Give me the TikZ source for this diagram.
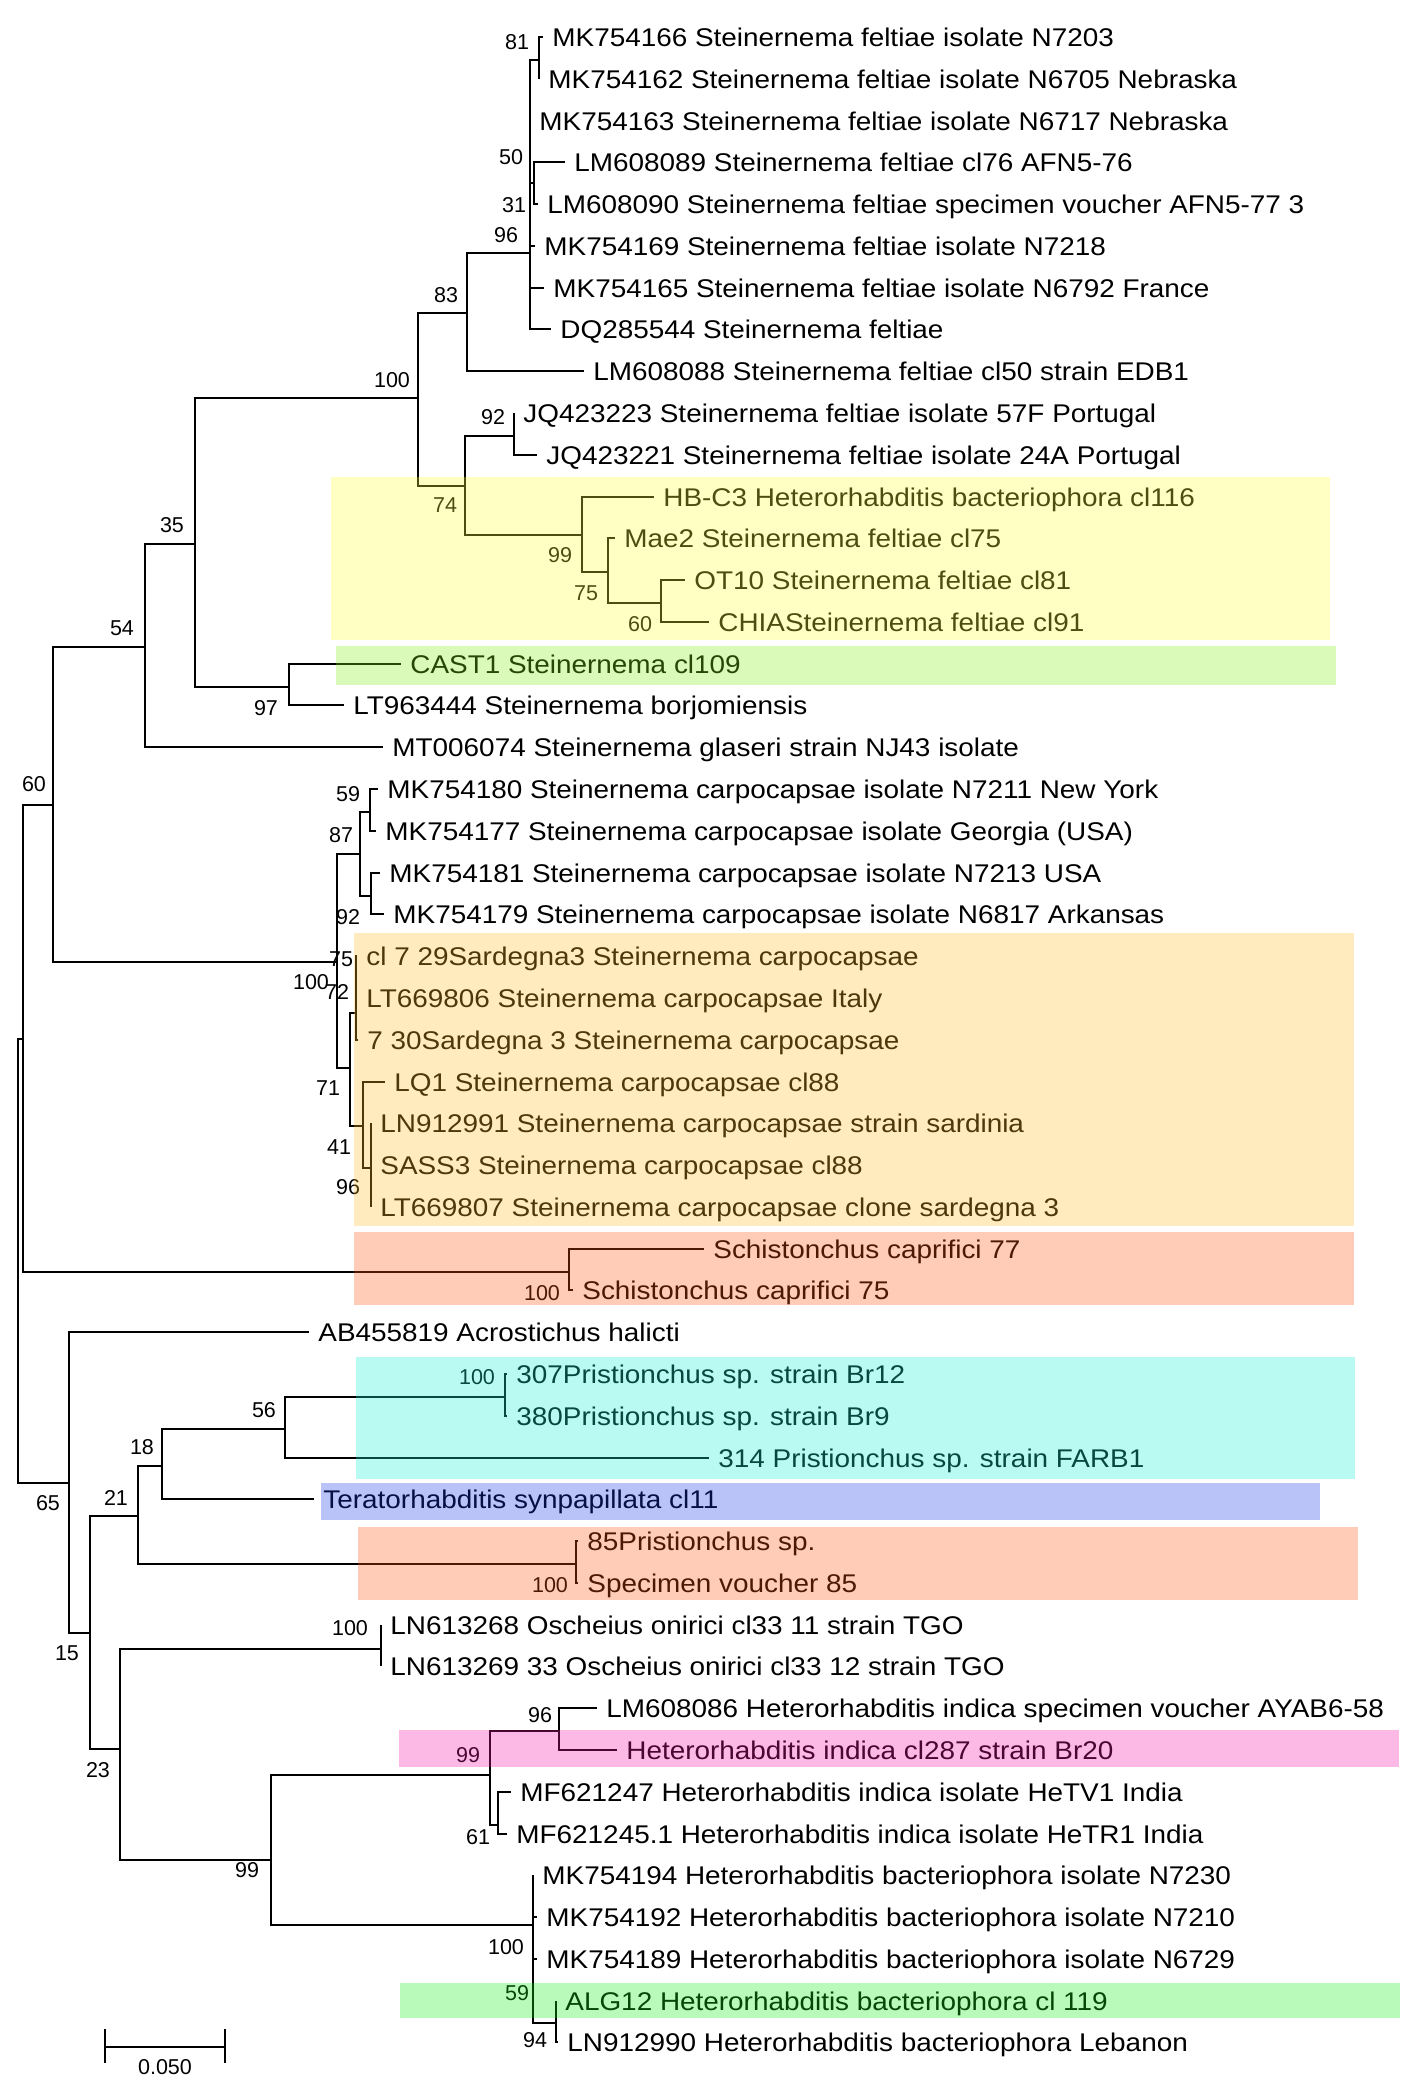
\documentclass[tikz,border=0pt]{standalone}
\usepackage{fontspec}
\setmainfont{Liberation Sans}[FakeStretch=1.09]
\newfontfamily\bootfamily{Liberation Sans}
\definecolor{HlYellow}{RGB}{255,255,58}
\definecolor{HlLime}{RGB}{128,238,22}
\definecolor{HlOrange}{RGB}{255,188,38}
\definecolor{HlSalmon}{RGB}{255,85,18}
\definecolor{HlCyan}{RGB}{22,242,212}
\definecolor{HlBlue}{RGB}{22,55,228}
\definecolor{HlPink}{RGB}{248,22,172}
\definecolor{HlGreen}{RGB}{22,234,22}
\tikzset{
  leaf/.style={anchor=west, inner xsep=4.5pt, inner ysep=0pt,
    font=\fontsize{12.8}{15}\selectfont, text height=9.2pt, text depth=0pt},
  boot/.style={inner sep=0pt, font=\bootfamily\fontsize{10.75}{12}\selectfont,
    text height=7.7pt, text depth=0pt},
  branch/.style={draw=black, line width=0.8pt},
  hilite/.style={fill opacity=0.3}
}
\begin{document}
\begin{tikzpicture}[x=0.5pt, y=-0.5pt]
\useasboundingbox (0,0) rectangle (1417,2087);
% internal nodes of the tree
\coordinate (root) at (18,1261);
\coordinate (n60) at (23,1039);
\coordinate (nA) at (53,805);
\coordinate (n54) at (145,647);
\coordinate (n35) at (195,544);
\coordinate (nfel) at (418,398);
\coordinate (n83) at (467,313);
\coordinate (n96) at (530,253);
\coordinate (n81) at (539,60);
\coordinate (n50) at (534,183);
\coordinate (n74) at (465,486);
\coordinate (n92) at (514,436);
\coordinate (n99y) at (582,535);
\coordinate (n75y) at (608,572);
\coordinate (n60y) at (661,603);
\coordinate (n97) at (289,687);
\coordinate (ncarp) at (337,962);
\coordinate (n87) at (360,854);
\coordinate (n59c) at (370,812);
\coordinate (n92c) at (371,896);
\coordinate (n71) at (350,1068);
\coordinate (n72) at (356,1013);
\coordinate (n41) at (363,1126);
\coordinate (n96c) at (371,1168);
\coordinate (nsch) at (569,1272);
\coordinate (n65) at (69,1483);
\coordinate (n15) at (90,1633);
\coordinate (n21) at (138,1516);
\coordinate (n18) at (162,1466);
\coordinate (n56) at (285,1429);
\coordinate (npr) at (505,1397);
\coordinate (n85) at (576,1564);
\coordinate (n23) at (120,1749);
\coordinate (nosc) at (381,1649);
\coordinate (n99b) at (271,1860);
\coordinate (n99i) at (490,1775);
\coordinate (n96i) at (559,1731);
\coordinate (n61) at (498,1825);
\coordinate (nbac) at (533,1925);
\coordinate (n94) at (556,2023);
% taxa
\node[leaf] (f7203) at (543,37) {MK754166 Steinernema feltiae isolate N7203};
\node[leaf] (f6705) at (539,79) {MK754162 Steinernema feltiae isolate N6705 Nebraska};
\node[leaf] (f6717) at (530,121) {MK754163 Steinernema feltiae isolate N6717 Nebraska};
\node[leaf] (fafn76) at (565,162) {LM608089 Steinernema feltiae cl76 AFN5-76};
\node[leaf] (fafn77) at (538,204) {LM608090 Steinernema feltiae specimen voucher AFN5-77 3};
\node[leaf] (f7218) at (535,246) {MK754169 Steinernema feltiae isolate N7218};
\node[leaf] (f6792) at (544,288) {MK754165 Steinernema feltiae isolate N6792 France};
\node[leaf] (fdq) at (551,329) {DQ285544 Steinernema feltiae};
\node[leaf] (fedb) at (584,371) {LM608088 Steinernema feltiae cl50 strain EDB1};
\node[leaf] (f57f) at (514,413) {JQ423223 Steinernema feltiae isolate 57F Portugal};
\node[leaf] (f24a) at (537,455) {JQ423221 Steinernema feltiae isolate 24A Portugal};
\node[leaf] (hbc3) at (654,497) {HB-C3 Heterorhabditis bacteriophora cl116};
\node[leaf] (mae2) at (615,538) {Mae2 Steinernema feltiae cl75};
\node[leaf] (ot10) at (685,580) {OT10 Steinernema feltiae cl81};
\node[leaf] (chia) at (709,622) {CHIASteinernema feltiae cl91};
\node[leaf] (cast1) at (401,664) {CAST1 Steinernema cl109};
\node[leaf] (borj) at (344,705) {LT963444 Steinernema borjomiensis};
\node[leaf] (glas) at (383,747) {MT006074 Steinernema glaseri strain NJ43 isolate};
\node[leaf] (c7211) at (378,789) {MK754180 Steinernema carpocapsae isolate N7211 New York};
\node[leaf] (cgeo) at (376,831) {MK754177 Steinernema carpocapsae isolate Georgia (USA)};
\node[leaf] (c7213) at (380,873) {MK754181 Steinernema carpocapsae isolate N7213 USA};
\node[leaf] (c6817) at (384,914) {MK754179 Steinernema carpocapsae isolate N6817 Arkansas};
\node[leaf] (csar29) at (357,956) {cl 7 29Sardegna3 Steinernema carpocapsae};
\node[leaf] (citaly) at (357,998) {LT669806 Steinernema carpocapsae Italy};
\node[leaf] (csar30) at (358,1040) {7 30Sardegna 3 Steinernema carpocapsae};
\node[leaf] (clq1) at (385,1082) {LQ1 Steinernema carpocapsae cl88};
\node[leaf] (csard) at (371,1123) {LN912991 Steinernema carpocapsae strain sardinia};
\node[leaf] (csass) at (371,1165) {SASS3 Steinernema carpocapsae cl88};
\node[leaf] (cclone) at (371,1207) {LT669807 Steinernema carpocapsae clone sardegna 3};
\node[leaf] (sch77) at (704,1249) {Schistonchus caprifici 77};
\node[leaf] (sch75) at (573,1290) {Schistonchus caprifici 75};
\node[leaf] (acro) at (309,1332) {AB455819 Acrostichus halicti};
\node[leaf] (pr307) at (507,1374) {307Pristionchus sp. strain Br12};
\node[leaf] (pr380) at (507,1416) {380Pristionchus sp. strain Br9};
\node[leaf] (pr314) at (709,1458) {314 Pristionchus sp. strain FARB1};
\node[leaf] (terato) at (314,1499) {Teratorhabditis synpapillata cl11};
\node[leaf] (pr85) at (578,1541) {85Pristionchus sp.};
\node[leaf] (spec85) at (578,1583) {Specimen voucher 85};
\node[leaf] (osc11) at (381,1625) {LN613268 Oscheius onirici cl33 11 strain TGO};
\node[leaf] (osc12) at (381,1666) {LN613269 33 Oscheius onirici cl33 12 strain TGO};
\node[leaf] (iayab) at (597,1708) {LM608086 Heterorhabditis indica specimen voucher AYAB6-58};
\node[leaf] (ibr20) at (617,1750) {Heterorhabditis indica cl287 strain Br20};
\node[leaf] (ihetv) at (511,1792) {MF621247 Heterorhabditis indica isolate HeTV1 India};
\node[leaf] (ihetr) at (507,1834) {MF621245.1 Heterorhabditis indica isolate HeTR1 India};
\node[leaf] (b7230) at (533,1875) {MK754194 Heterorhabditis bacteriophora isolate N7230};
\node[leaf] (b7210) at (537,1917) {MK754192 Heterorhabditis bacteriophora isolate N7210};
\node[leaf] (b6729) at (537,1959) {MK754189 Heterorhabditis bacteriophora isolate N6729};
\node[leaf] (balg) at (556,2001) {ALG12 Heterorhabditis bacteriophora cl 119};
\node[leaf] (bleb) at (558,2042) {LN912990 Heterorhabditis bacteriophora Lebanon};
% branches, parent to child
\foreach \p/\c in {root/n60, root/n65, n60/nA, n60/nsch, nA/n54, nA/ncarp,
    n54/n35, n54/glas, n35/nfel, n35/n97, nfel/n83, nfel/n74, n83/n96, n83/fedb,
    n96/n81, n96/f6717, n96/n50, n96/f7218, n96/f6792, n96/fdq,
    n81/f7203, n81/f6705, n50/fafn76, n50/fafn77,
    n74/n92, n74/n99y, n92/f57f, n92/f24a, n99y/hbc3, n99y/n75y,
    n75y/mae2, n75y/n60y, n60y/ot10, n60y/chia, n97/cast1, n97/borj,
    ncarp/n87, ncarp/n71, n87/n59c, n87/n92c, n59c/c7211, n59c/cgeo,
    n92c/c7213, n92c/c6817, n71/n72, n71/n41, n72/csar29, n72/citaly, n72/csar30,
    n41/clq1, n41/n96c, n96c/csard, n96c/csass, n96c/cclone,
    nsch/sch77, nsch/sch75, n65/acro, n65/n15, n15/n21, n15/n23,
    n21/n18, n21/n85, n18/n56, n18/terato, n56/npr, n56/pr314,
    npr/pr307, npr/pr380, n85/pr85, n85/spec85, n23/nosc, n23/n99b,
    nosc/osc11, nosc/osc12, n99b/n99i, n99b/nbac, n99i/n96i, n99i/n61,
    n96i/iayab, n96i/ibr20, n61/ihetv, n61/ihetr,
    nbac/b7230, nbac/b7210, nbac/b6729, nbac/n94, n94/balg, n94/bleb}
  \draw[branch] (\p) |- (\c);
% bootstrap values
\foreach \bx/\by/\bv [count=\k] in {517/42/81, 511/157/50, 514/205/31, 506/235/96,
    446/295/83, 392/380/100, 493/417/92, 445/505/74, 560/555/99, 586/593/75,
    640/624/60, 172/525/35, 122/628/54, 266/708/97, 34/784/60, 348/794/59,
    341/835/87, 348/917/92, 341/959/75, 311/982/100, 337/992/72, 328/1088/71,
    339/1147/41, 348/1187/96, 542/1293/100, 477/1377/100, 264/1410/56,
    142/1447/18, 116/1498/21, 48/1503/65, 550/1585/100, 350/1628/100,
    67/1653/15, 540/1715/96, 468/1755/99, 98/1770/23, 478/1837/61,
    247/1870/99, 506/1947/100, 517/1993/59, 535/2040/94}
  \node[boot] (bs\k) at (\bx,\by) {\bv};
% scale bar
\coordinate (sbl) at (105,2047);
\coordinate (sbr) at (225,2047);
\draw[branch] (sbl) -- (sbr);
\draw[branch] ([yshift=9]sbl) -- ([yshift=-8]sbl);
\draw[branch] ([yshift=9]sbr) -- ([yshift=-8]sbr);
\node[boot] (sblab) at (165,2067) {0.050};
% highlighted clades
\fill[HlYellow, hilite] (331,477) rectangle (1330,640);
\fill[HlLime, hilite] (336,646) rectangle (1336,685);
\fill[HlOrange, hilite] (354,933) rectangle (1354,1226);
\fill[HlSalmon, hilite] (354,1232) rectangle (1354,1305);
\fill[HlCyan, hilite] (356,1357) rectangle (1355,1479);
\fill[HlBlue, hilite] (321,1483) rectangle (1320,1520);
\fill[HlSalmon, hilite] (358,1527) rectangle (1358,1600);
\fill[HlPink, hilite] (399,1730) rectangle (1399,1767);
\fill[HlGreen, hilite] (400,1983) rectangle (1400,2018);
\end{tikzpicture}
\end{document}
